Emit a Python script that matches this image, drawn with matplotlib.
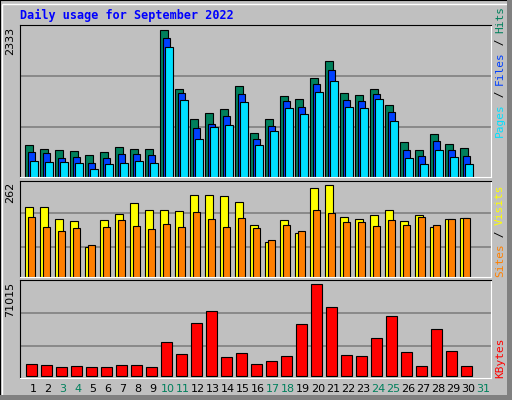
import numpy as np
import matplotlib.pyplot as plt
from matplotlib.patches import Rectangle

days = np.arange(1, 31)
hits = [508, 444, 428, 413, 349, 397, 476, 444, 444, 2333, 1397, 921, 1016, 1079, 1444,
        698, 921, 1286, 1238, 1571, 1841, 1333, 1302, 1397, 1143, 556, 428, 682, 524, 460]
files = [397, 381, 302, 317, 222, 302, 365, 365, 349, 2206, 1333, 778, 841, 968, 1317,
         603, 809, 1206, 1111, 1476, 1698, 1222, 1206, 1317, 1032, 428, 333, 571, 428, 333]
pages = [254, 238, 238, 222, 127, 206, 222, 254, 222, 2063, 1222, 603, 794, 825, 1190,
         508, 730, 1095, 1000, 1349, 1524, 1111, 1095, 1238, 889, 302, 206, 428, 317, 206]
visits = [199, 199, 165, 159, 86, 162, 179, 210, 190, 190, 187, 232, 232, 229, 212,
          148, 100, 162, 125, 252, 262, 171, 165, 176, 190, 159, 176, 143, 165, 168]
sites = [171, 143, 129, 140, 92, 143, 162, 145, 137, 151, 143, 185, 165, 143, 168,
         140, 105, 148, 131, 190, 182, 157, 157, 145, 162, 148, 171, 148, 165, 168]
kbytes = [9300, 8520, 6970, 7750, 6970, 6970, 8520, 8520, 6970, 26080, 16780, 41310, 50600,
          14460, 17560, 9300, 11620, 15490, 40010, 71015, 53180, 16010, 15490, 29180, 46140,
          18590, 7750, 36140, 19110, 7750]
weekend = [3, 4, 10, 11, 17, 18, 24, 25, 31]

W, H = 512, 400
fig = plt.figure(figsize=(W / 100, H / 100), dpi=100)
fig.patch.set_facecolor('#C0C0C0')
# outer bevel
fig.patches.append(Rectangle((0, 0), 1, 1, transform=fig.transFigure, fill=False,
                             edgecolor='black', lw=1.5))
fig.patches.append(Rectangle((2 / W, 2 / H), 1 - 6 / W, 1 - 6 / H, transform=fig.transFigure,
                             fill=False, edgecolor='white', lw=1))
fig.patches.append(Rectangle((0, 0), 1, 5 / H, transform=fig.transFigure,
                             color='#808080', lw=0))
fig.patches.append(Rectangle((1 - 5 / W, 0), 5 / W, 1, transform=fig.transFigure,
                             color='#808080', lw=0))


def panel(top, bottom, ylim, grids):
    ax = fig.add_axes([20 / W, 1 - bottom / H, 471 / W, (bottom - top) / H])
    ax.set_facecolor('#C0C0C0')
    ax.set_xlim(0.133, 31.53)
    ax.set_ylim(*ylim)
    for g in grids:
        ax.axhline(g, color='#808080', lw=1.2, zorder=0)
    ax.set_xticks([])
    ax.set_yticks([])
    ax.spines['top'].set_color('black')
    ax.spines['left'].set_color('black')
    ax.spines['bottom'].set_color('white')
    ax.spines['right'].set_color('white')
    return ax


kw = dict(align='edge', edgecolor='black', linewidth=0.8)

ax1 = panel(25, 177, (0, 2408), [1600, 792])
ax1.bar(days - 0.533, hits, 0.51, color='#00805C', **kw)
ax1.bar(days - 0.353, files, 0.51, color='#0040FF', **kw)
ax1.bar(days - 0.2, pages, 0.51, color='#00E0FF', **kw)

ax2 = panel(181, 277, (0, 272), [180, 86])
ax2.bar(days - 0.533, visits, 0.51, color='#FFFF00', **kw)
ax2.bar(days - 0.353, sites, 0.51, color='#FF8000', **kw)

ax3 = panel(280, 378, (-1550, 74370), [48540, 23500])
ax3.bar(days - 0.467, kbytes, 0.71, color='#FF0000', **kw)

for d in range(1, 32):
    ax3.text(d, -0.06, str(d), transform=ax3.get_xaxis_transform(), ha='center', va='top',
             fontsize=8, color='#00805C' if d in weekend else 'black')

fig.text(20 / W, 1 - 15 / H, 'Daily usage for September 2022', family='DejaVu Sans Mono',
         fontweight='bold', fontsize=8.5, color='#0000FF', va='center')

for val, top in [('2333', 27), ('262', 182), ('71015', 282)]:
    fig.text(10 / W, 1 - top / H, val, rotation=90, fontsize=8, ha='center', va='top',
             family='DejaVu Sans')


def side(parts, bottom):
    y = bottom
    for txt, col in parts:
        t = fig.text(500 / W, 1 - y / H, txt, rotation=90, ha='center', va='bottom',
                     family='DejaVu Sans Mono', fontsize=8, color=col)
        y -= len(txt) * 6.5


side([('Pages', '#00E0FF'), (' / ', 'black'), ('Files', '#0040FF'), (' / ', 'black'),
      ('Hits', '#00805C')], 137)
side([('Sites', '#FF8000'), (' / ', 'black'), ('Visits', '#FFFF00')], 277)
side([('KBytes', '#FF0000')], 378)

fig.savefig('out.png', dpi=100, facecolor=fig.get_facecolor())
